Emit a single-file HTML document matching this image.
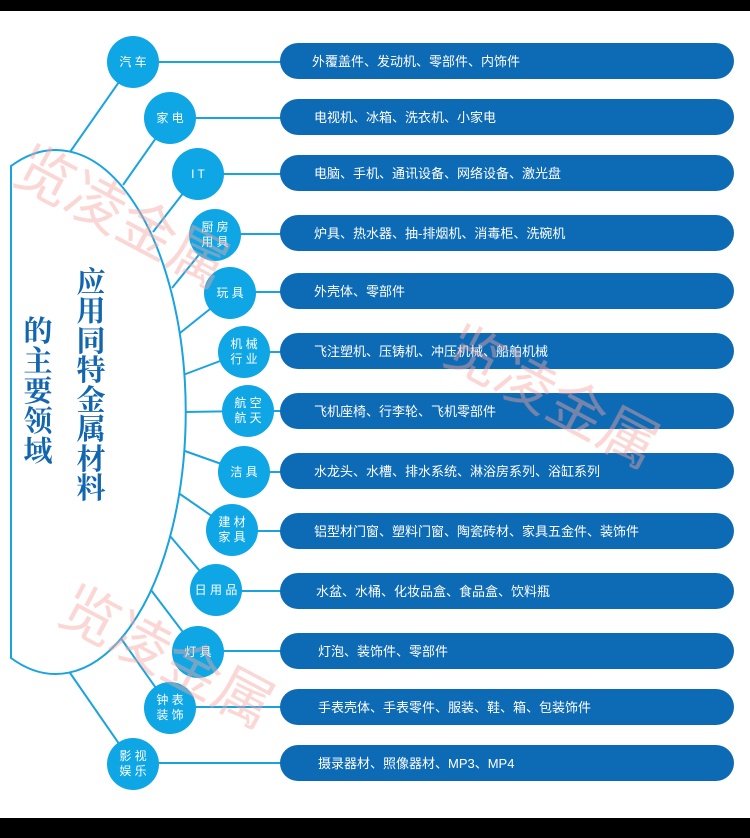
<!DOCTYPE html>
<html><head><meta charset="utf-8"><style>
html,body{margin:0;padding:0;background:#fff}
svg{display:block}
</style></head><body>
<svg width="750" height="838" viewBox="0 0 750 838" xmlns="http://www.w3.org/2000/svg" font-family="Liberation Sans, Noto Sans CJK SC, sans-serif">
<rect width="750" height="838" fill="#fff"/>
<rect x="0" y="0" width="750" height="11" fill="#000"/>
<rect x="0" y="818" width="750" height="20" fill="#000"/>
<g stroke="#1aa3e0" stroke-width="2" fill="none">
<line x1="70" y1="152" x2="133" y2="62"/>
<line x1="123" y1="185" x2="170" y2="118"/>
<line x1="153" y1="232" x2="198" y2="174"/>
<line x1="172" y1="288" x2="215" y2="235"/>
<line x1="180" y1="333" x2="230" y2="293"/>
<line x1="183" y1="375" x2="244" y2="352"/>
<line x1="184" y1="412" x2="248" y2="411"/>
<line x1="182" y1="450" x2="244" y2="472"/>
<line x1="177" y1="492" x2="232" y2="530"/>
<line x1="170" y1="536" x2="216" y2="590"/>
<line x1="151" y1="590" x2="198" y2="652"/>
<line x1="120" y1="637" x2="170" y2="708"/>
<line x1="68" y1="670" x2="133" y2="764"/>
<line x1="133" y1="62" x2="300" y2="62"/>
<line x1="170" y1="118" x2="300" y2="118"/>
<line x1="198" y1="174" x2="300" y2="174"/>
<line x1="215" y1="234" x2="300" y2="234"/>
<line x1="230" y1="292" x2="300" y2="292"/>
<line x1="244" y1="352" x2="300" y2="352"/>
<line x1="248" y1="411" x2="300" y2="411"/>
<line x1="244" y1="472" x2="300" y2="472"/>
<line x1="232" y1="531" x2="300" y2="531"/>
<line x1="216" y1="591" x2="300" y2="591"/>
<line x1="198" y1="651" x2="300" y2="651"/>
<line x1="170" y1="707" x2="300" y2="707"/>
<line x1="133" y1="763" x2="300" y2="763"/>
</g>
<path d="M11,166 A130,262 0 1 1 11,658 Z" fill="#fff" stroke="#1aa3e0" stroke-width="2"/>
<g fill="#0d6ab5">
<rect x="280" y="43" width="454" height="36" rx="18"/>
<rect x="280" y="99" width="454" height="36" rx="18"/>
<rect x="280" y="155" width="454" height="36" rx="18"/>
<rect x="280" y="215" width="454" height="36" rx="18"/>
<rect x="280" y="273" width="454" height="36" rx="18"/>
<rect x="280" y="333" width="454" height="36" rx="18"/>
<rect x="280" y="393" width="454" height="36" rx="18"/>
<rect x="280" y="453" width="454" height="36" rx="18"/>
<rect x="280" y="513" width="454" height="36" rx="18"/>
<rect x="280" y="573" width="454" height="36" rx="18"/>
<rect x="280" y="633" width="454" height="36" rx="18"/>
<rect x="280" y="689" width="454" height="36" rx="18"/>
<rect x="280" y="745" width="454" height="36" rx="18"/>
</g>
<g fill="#fff" font-size="13">
<text x="312" y="66">外覆盖件、发动机、零部件、内饰件</text>
<text x="314" y="122">电视机、冰箱、洗衣机、小家电</text>
<text x="314" y="178">电脑、手机、通讯设备、网络设备、激光盘</text>
<text x="314" y="238">炉具、热水器、抽-排烟机、消毒柜、洗碗机</text>
<text x="314" y="296">外壳体、零部件</text>
<text x="314" y="356">飞注塑机、压铸机、冲压机械、船舶机械</text>
<text x="314" y="416">飞机座椅、行李轮、飞机零部件</text>
<text x="314" y="476">水龙头、水槽、排水系统、淋浴房系列、浴缸系列</text>
<text x="314" y="536">铝型材门窗、塑料门窗、陶瓷砖材、家具五金件、装饰件</text>
<text x="316" y="596">水盆、水桶、化妆品盒、食品盒、饮料瓶</text>
<text x="318" y="656">灯泡、装饰件、零部件</text>
<text x="318" y="712">手表壳体、手表零件、服装、鞋、箱、包装饰件</text>
<text x="318" y="768">摄录器材、照像器材、MP3、MP4</text>
</g>
<g fill="#0fa6e6">
<circle cx="133" cy="62" r="26"/>
<circle cx="170" cy="118" r="26"/>
<circle cx="198" cy="174" r="26"/>
<circle cx="215" cy="235" r="26"/>
<circle cx="230" cy="293" r="26"/>
<circle cx="244" cy="352" r="26"/>
<circle cx="248" cy="411" r="26"/>
<circle cx="244" cy="472" r="26"/>
<circle cx="232" cy="530" r="26"/>
<circle cx="216" cy="590" r="26"/>
<circle cx="198" cy="652" r="26"/>
<circle cx="170" cy="708" r="26"/>
<circle cx="133" cy="764" r="26"/>
</g>
<g fill="#fff" font-size="12" text-anchor="middle">
<text x="133" y="66">汽 车</text>
<text x="170" y="122">家 电</text>
<text x="198" y="178">I T</text>
<text x="215" y="231">厨 房</text><text x="215" y="246">用 具</text>
<text x="230" y="297">玩 具</text>
<text x="244" y="348">机 械</text><text x="244" y="363">行 业</text>
<text x="248" y="407">航 空</text><text x="248" y="422">航 天</text>
<text x="244" y="476">洁 具</text>
<text x="232" y="526">建 材</text><text x="232" y="541">家 具</text>
<text x="216" y="594">日 用 品</text>
<text x="198" y="656">灯 具</text>
<text x="170" y="704">钟 表</text><text x="170" y="719">装 饰</text>
<text x="133" y="760">影 视</text><text x="133" y="775">娱 乐</text>
</g>
<g fill="#1266b0" font-family="Liberation Serif, Noto Serif CJK SC, serif" font-weight="bold" font-size="29" text-anchor="middle">
<text x="91" y="292">应</text><text x="91" y="321">用</text><text x="91" y="351">同</text><text x="91" y="380">特</text>
<text x="91" y="410">金</text><text x="91" y="439">属</text><text x="91" y="469">材</text><text x="91" y="498">料</text>
<text x="38" y="341">的</text><text x="38" y="371">主</text><text x="38" y="401">要</text><text x="38" y="431">领</text><text x="38" y="461">域</text>
</g>
<g fill="#f4a6a0" opacity="0.45" font-size="58" font-family="Liberation Sans, Noto Sans CJK SC, sans-serif">
<text x="0" y="0" transform="translate(10,180) rotate(28)">览凌金属</text>
<text x="0" y="0" transform="translate(440,360) rotate(28)">览凌金属</text>
<text x="0" y="0" transform="translate(55,620) rotate(28)">览凌金属</text>
</g>
</svg>
</body></html>
